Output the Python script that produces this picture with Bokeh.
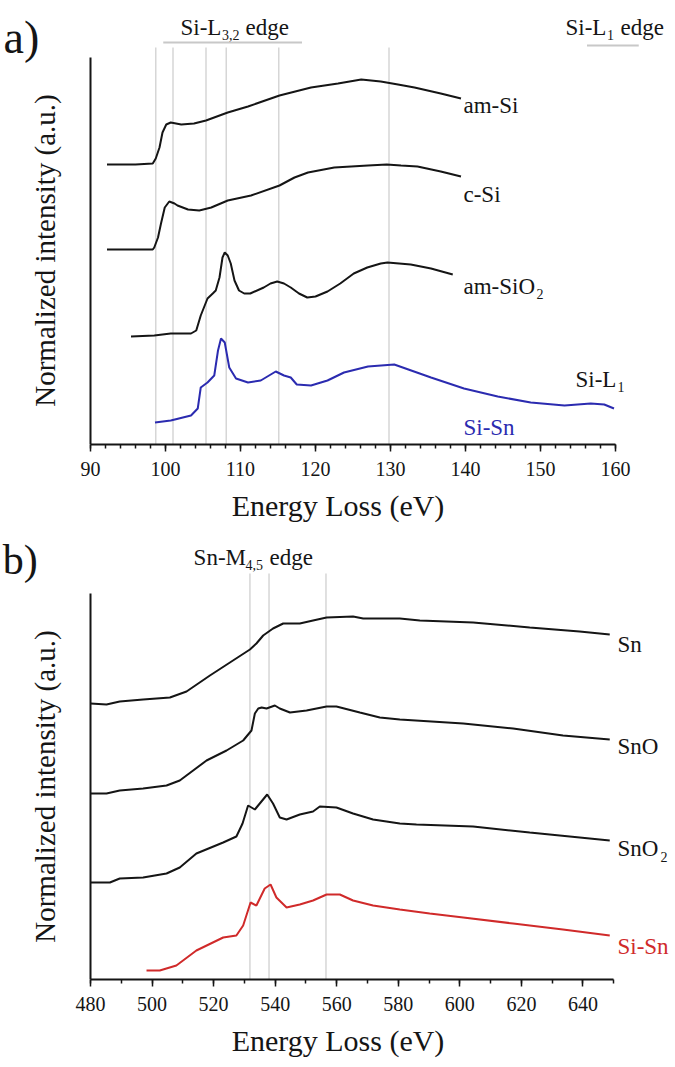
import math
from bokeh.plotting import figure
from bokeh.models import Range1d, SingleIntervalTicker, FixedTicker
from bokeh.layouts import column
from bokeh.embed import file_html
from bokeh.resources import INLINE
from bokeh.core.properties import value

FONT = "Liberation Serif"
BLACK = "#151515"
BLUE = "#2b2bb0"
RED = "#d02a2a"
GRAY = "#d6d6d6"

# ---------------- Panel a data (Si-L edges) ----------------
amsi_e = [92.2, 96.0, 98.3, 98.7, 99.2, 99.6, 100.1, 100.7, 102.1, 103.8, 105.4, 108.3, 111.0,
          115.2, 119.4, 123.0, 126.1, 128.7, 131.0, 133.2, 136.7, 139.4]
amsi_i = [2.80, 2.80, 2.81, 2.86, 2.97, 3.12, 3.20, 3.22, 3.20, 3.21, 3.24, 3.32, 3.38,
          3.49, 3.57, 3.61, 3.65, 3.63, 3.60, 3.57, 3.51, 3.46]

csi_e = [92.2, 96.0, 98.3, 98.5, 99.0, 99.4, 99.9, 100.5, 101.2, 101.6, 103.0, 104.5, 106.1,
         108.3, 111.4, 115.2, 117.2, 119.0, 122.5, 127.0, 129.5, 131.4, 133.6, 136.7, 139.4]
csi_i = [1.95, 1.95, 1.95, 1.97, 2.07, 2.21, 2.37, 2.43, 2.41, 2.39, 2.35, 2.34, 2.37,
         2.44, 2.49, 2.59, 2.67, 2.72, 2.77, 2.79, 2.80, 2.79, 2.78, 2.73, 2.68]

asio2_e = [95.4, 98.5, 100.7, 103.4, 104.1, 104.7, 105.6, 106.3, 106.7, 107.2, 107.6, 107.9,
           108.3, 108.7, 109.2, 109.8, 110.5, 111.3, 113.1, 114.0, 114.9, 115.8, 116.7, 117.8,
           118.9, 120.0, 121.6, 123.3, 125.1, 126.9, 128.7, 129.6, 132.7, 135.4, 138.3]
asio2_i = [1.08, 1.09, 1.11, 1.11, 1.14, 1.29, 1.46, 1.51, 1.54, 1.67, 1.87, 1.92,
           1.89, 1.81, 1.64, 1.54, 1.51, 1.51, 1.57, 1.61, 1.63, 1.61, 1.57, 1.51,
           1.47, 1.48, 1.53, 1.61, 1.71, 1.77, 1.81, 1.82, 1.80, 1.76, 1.70]

sisn_a_e = [98.6, 100.7, 103.4, 104.3, 104.7, 105.6, 106.5, 107.0, 107.4, 107.9, 108.5, 109.4,
            111.0, 112.7, 114.7, 115.8, 116.7, 117.5, 119.4, 121.6, 123.8, 127.0, 130.5, 135.4,
            139.8, 144.3, 148.7, 153.2, 156.7, 158.5, 159.8]
sisn_a_i = [0.22, 0.24, 0.29, 0.36, 0.57, 0.62, 0.69, 0.94, 1.06, 1.02, 0.77, 0.66,
            0.62, 0.64, 0.73, 0.69, 0.67, 0.60, 0.59, 0.64, 0.72, 0.78, 0.80, 0.67,
            0.56, 0.48, 0.42, 0.39, 0.41, 0.40, 0.36]

edges_a = [98.7, 101.0, 105.4, 108.1, 115.1, 129.8]
bar32_e = [99.7, 118.2]
barL1_e = [156.2, 163.1]

# ---------------- Panel b data (Sn-M edges) ----------------
sn_e = [480.0, 485.2, 489.5, 497.1, 505.8, 511.2, 518.8, 525.3, 531.8, 533.9, 536.1, 539.3,
        542.6, 548.0, 552.3, 556.7, 565.3, 568.6, 580.5, 587.0, 604.3, 622.7, 638.9, 648.7]
sn_i = [2.76, 2.75, 2.78, 2.80, 2.82, 2.88, 3.04, 3.17, 3.30, 3.36, 3.44, 3.51,
        3.56, 3.56, 3.59, 3.62, 3.63, 3.61, 3.61, 3.59, 3.57, 3.52, 3.48, 3.45]

sno_e = [480.0, 485.2, 489.5, 497.1, 504.7, 509.0, 517.7, 524.2, 529.6, 532.3, 533.4, 534.5,
         535.6, 537.2, 539.9, 541.5, 544.8, 550.2, 556.7, 559.9, 567.5, 574.0, 580.5, 601.1,
         617.3, 633.5, 648.7]
sno_i = [1.86, 1.86, 1.89, 1.91, 1.94, 1.99, 2.19, 2.29, 2.39, 2.49, 2.66, 2.71,
         2.72, 2.71, 2.74, 2.71, 2.67, 2.69, 2.73, 2.73, 2.67, 2.62, 2.60, 2.56,
         2.51, 2.44, 2.40]

sno2_e = [480.0, 486.3, 489.5, 497.1, 504.7, 509.0, 514.4, 523.1, 527.4, 529.4, 531.2, 533.4,
          537.4, 539.3, 541.5, 543.7, 548.0, 552.3, 554.5, 559.9, 565.3, 571.8, 580.5, 585.9,
          604.3, 622.7, 648.7]
sno2_i = [0.97, 0.97, 1.01, 1.02, 1.06, 1.12, 1.26, 1.37, 1.43, 1.56, 1.74, 1.70,
          1.85, 1.76, 1.62, 1.60, 1.65, 1.68, 1.73, 1.72, 1.66, 1.60, 1.56, 1.55,
          1.53, 1.47, 1.39]

sisn_b_e = [498.2, 502.5, 507.9, 514.4, 523.1, 527.4, 529.6, 532.0, 533.9, 536.6, 538.5, 540.4,
            543.7, 548.0, 552.3, 556.7, 561.0, 565.3, 571.8, 580.5, 590.2, 601.1, 617.3, 633.5,
            648.7]
sisn_b_i = [0.09, 0.09, 0.14, 0.29, 0.42, 0.44, 0.54, 0.77, 0.74, 0.91, 0.95, 0.82,
            0.72, 0.75, 0.79, 0.85, 0.85, 0.79, 0.74, 0.70, 0.66, 0.62, 0.56, 0.50,
            0.44]

edges_b = [531.8, 538.0, 556.5]


def base_fig(x0, x1, y1, fh, bottom, xb, yloc, yb, interval, nminor):
    p = figure(frame_width=675, frame_height=fh, x_range=Range1d(x0, x1), y_range=Range1d(0, y1),
               min_border_left=0, min_border_right=0, min_border_top=0, min_border_bottom=bottom,
               output_backend="svg", toolbar_location=None)
    p.outline_line_color = None
    p.xgrid.visible = False
    p.ygrid.visible = False
    p.background_fill_color = "white"
    p.border_fill_color = "white"
    ax = p.xaxis[0]
    ax.bounds = xb
    ax.ticker = SingleIntervalTicker(interval=interval, num_minor_ticks=nminor)
    ax.axis_line_width = 2
    ax.axis_line_color = BLACK
    ax.major_tick_line_width = 1.5
    ax.minor_tick_line_width = 1.5
    ax.major_tick_line_color = BLACK
    ax.minor_tick_line_color = BLACK
    ax.major_tick_out = 7
    ax.major_tick_in = 0
    ax.minor_tick_out = 4
    ax.minor_tick_in = 0
    ax.major_label_standoff = 10
    ax.major_label_text_font = FONT
    ax.major_label_text_font_size = "20px"
    ax.major_label_text_color = BLACK
    ax.axis_label = "Energy Loss (eV)"
    ax.axis_label_text_font = FONT
    ax.axis_label_text_font_size = "30px"
    ax.axis_label_text_font_style = "normal"
    ax.axis_label_text_color = BLACK
    ax.axis_label_standoff = 10
    ay = p.yaxis[0]
    ay.fixed_location = yloc
    ay.bounds = yb
    ay.ticker = FixedTicker(ticks=[])
    ay.axis_line_width = 2
    ay.axis_line_color = BLACK
    ay.major_tick_out = 0
    ay.major_tick_in = 0
    ay.minor_tick_out = 0
    ay.minor_tick_in = 0
    ay.major_label_text_font_size = "0px"
    return p


def txt(p, x, y, s, size="23px", color=BLACK, xo=0, yo=0, angle=0.0, align="left"):
    p.text(x=[x], y=[y], text=[s], text_font=value(FONT), text_font_size=size,
           text_color=color, text_align=align, text_baseline="alphabetic",
           x_offset=xo, y_offset=yo, angle=angle)


# ---------------- Panel a ----------------
pa = base_fig(78.0, 168.0, 4.44, 444, 83, (90, 160), 90, (0, 3.87), 10, 5)
pa.segment(x0=edges_a, y0=[0] * len(edges_a), x1=edges_a, y1=[3.97] * len(edges_a),
           line_color=GRAY, line_width=1.5)
pa.line(bar32_e, [4.02, 4.02], line_color="#c8c8c8", line_width=2)
pa.line(barL1_e, [3.99, 3.99], line_color="#c8c8c8", line_width=2)
pa.line(amsi_e, amsi_i, line_color=BLACK, line_width=2)
pa.line(csi_e, csi_i, line_color=BLACK, line_width=2)
pa.line(asio2_e, asio2_i, line_color=BLACK, line_width=2)
pa.line(sisn_a_e, sisn_a_i, line_color=BLUE, line_width=2)

txt(pa, 78.4, 4.07, "a)", size="46px")
txt(pa, 83.87, 1.94, "Normalized intensity (a.u.)", size="29px", angle=math.pi / 2, align="center")
txt(pa, 102.0, 4.17, "Si-L")
txt(pa, 102.0, 4.17, "3,2", size="14px", xo=41.5, yo=7)
txt(pa, 102.0, 4.17, "edge", xo=65)
txt(pa, 153.33, 4.17, "Si-L")
txt(pa, 153.33, 4.17, "1", size="14px", xo=41.5, yo=7)
txt(pa, 153.33, 4.17, "edge", xo=55)

txt(pa, 139.73, 3.395, "am-Si")
txt(pa, 139.73, 2.50, "c-Si")
txt(pa, 139.73, 1.583, "am-SiO")
txt(pa, 139.73, 1.583, "2", size="14px", xo=73, yo=8)
txt(pa, 154.67, 0.647, "Si-L")
txt(pa, 154.67, 0.647, "1", size="14px", xo=42, yo=7)
txt(pa, 139.73, 0.173, "Si-Sn", color=BLUE)

# ---------------- Panel b ----------------
pb = base_fig(450.76, 670.06, 4.52, 452, 88, (480, 650), 480, (0, 3.86), 20, 2)
pb.segment(x0=edges_b, y0=[0] * len(edges_b), x1=edges_b, y1=[4.06] * len(edges_b),
           line_color=GRAY, line_width=1.5)
pb.line(sn_e, sn_i, line_color=BLACK, line_width=2)
pb.line(sno_e, sno_i, line_color=BLACK, line_width=2)
pb.line(sno2_e, sno2_i, line_color=BLACK, line_width=2)
pb.line(sisn_b_e, sisn_b_i, line_color=RED, line_width=2)

txt(pb, 451.5, 4.20, "b)", size="42px")
txt(pb, 465.06, 1.93, "Normalized intensity (a.u.)", size="29px", angle=math.pi / 2, align="center")
txt(pb, 513.5, 4.22, "Sn-M")
txt(pb, 513.5, 4.22, "4,5", size="14px", xo=52, yo=7)
txt(pb, 513.5, 4.22, "edge", xo=76)

txt(pb, 651.2, 3.35, "Sn")
txt(pb, 651.2, 2.333, "SnO")
txt(pb, 651.2, 1.307, "SnO")
txt(pb, 651.2, 1.307, "2", size="14px", xo=43, yo=8)
txt(pb, 651.2, 0.333, "Si-Sn", color=RED)

layout = column(pa, pb, spacing=0)
open("out.html", "w").write(file_html(layout, INLINE))
